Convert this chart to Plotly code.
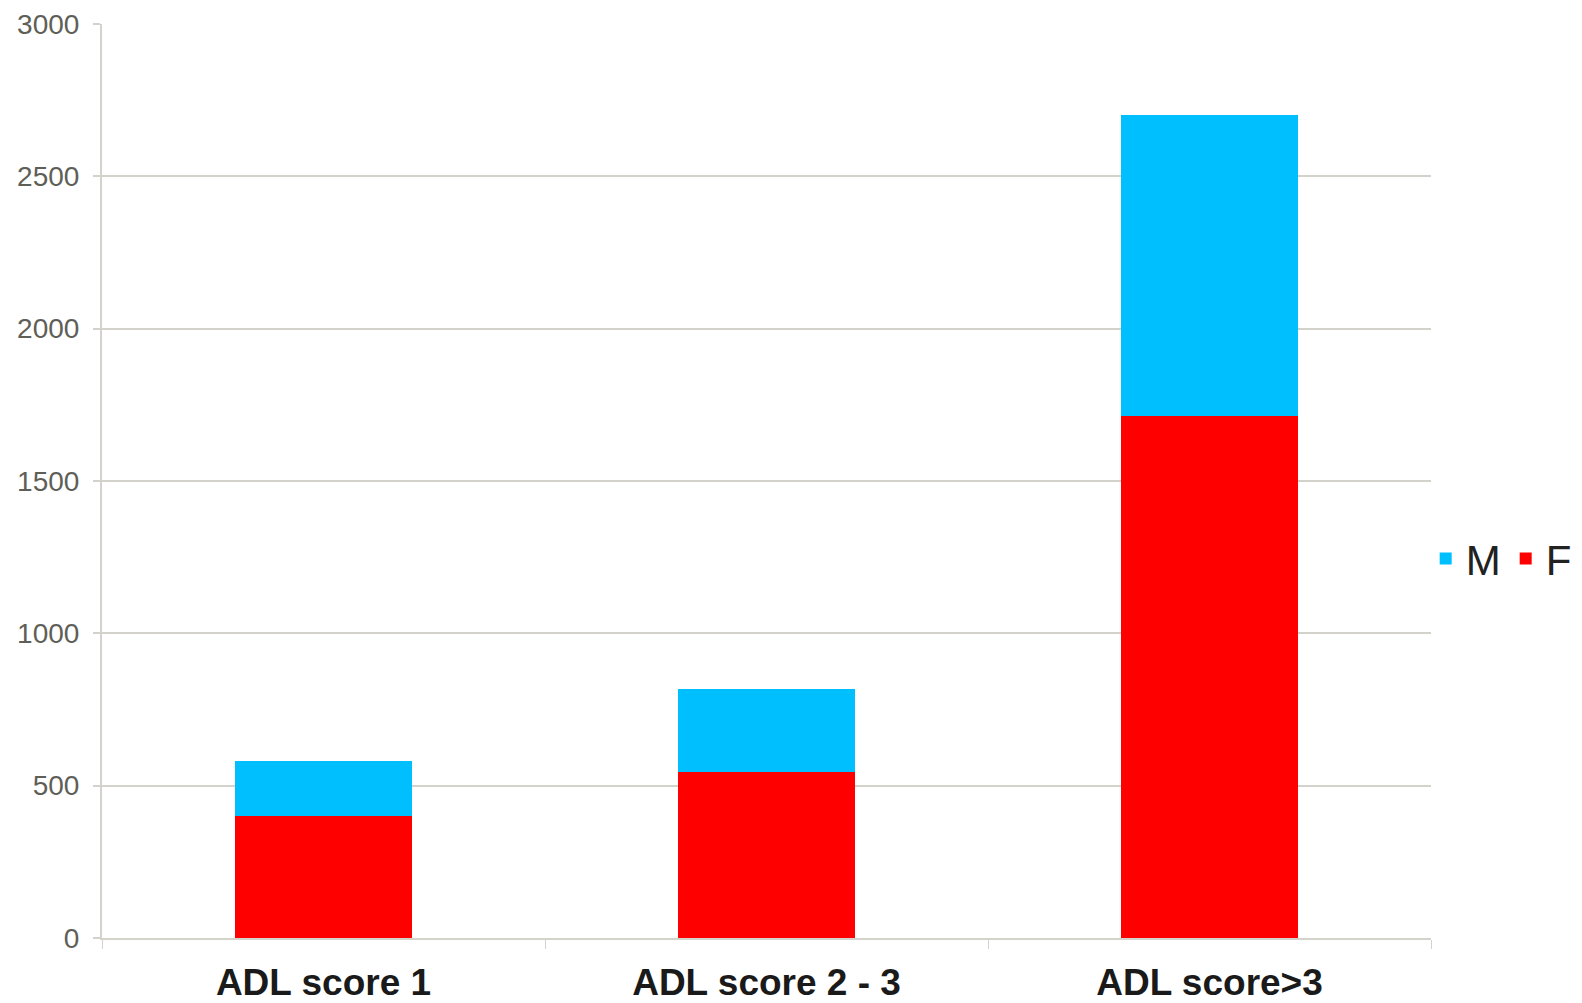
import plotly.graph_objects as go

# ADL score groups and counts by sex
categories = ["ADL score 1", "ADL score 2 - 3", "ADL score>3"]
female = [400, 544, 1712]
male = [180, 274, 990]
y_ticks = [0, 500, 1000, 1500, 2000, 2500, 3000]

grid_color = "#d3d3cb"

fig = go.Figure()
fig.add_trace(go.Bar(name="F", x=categories, y=female, marker=dict(color="#ff0000", line=dict(width=0))))
fig.add_trace(go.Bar(name="M", x=categories, y=male, marker=dict(color="#00bfff", line=dict(width=0))))

fig.update_layout(
    barmode="stack",
    bargap=0.6,
    width=1582,
    height=1003,
    margin=dict(l=102, r=151, t=24, b=65, autoexpand=False),
    plot_bgcolor="white",
    paper_bgcolor="white",
    font=dict(family="Liberation Sans, Arial, sans-serif"),
    legend=dict(
        orientation="h",
        traceorder="reversed",
        x=0.996,
        xanchor="left",
        y=0.415,
        yanchor="middle",
        font=dict(size=42, color="#222222"),
        itemwidth=30,
        tracegroupgap=0,
        bgcolor="rgba(0,0,0,0)",
    ),
    xaxis=dict(
        automargin=False,
        showline=True,
        linecolor=grid_color,
        linewidth=2,
        ticks="outside",
        tickson="boundaries",
        ticklen=9,
        tickcolor=grid_color,
        tickwidth=1,
        tickfont=dict(size=37, color="#1a1a1a", family="Liberation Sans, Arial, sans-serif"),
        ticklabelstandoff=11,
        showgrid=False,
    ),
    yaxis=dict(
        automargin=False,
        range=[0, 3000],
        tickvals=y_ticks,
        showline=True,
        linecolor=grid_color,
        linewidth=2,
        ticks="outside",
        ticklen=7,
        tickcolor=grid_color,
        tickwidth=2,
        showgrid=True,
        gridcolor=grid_color,
        gridwidth=2,
        tickfont=dict(size=28, color="#5f5f58"),
        ticklabelstandoff=8,
        zeroline=False,
    ),
)

# render the category labels in bold
fig.update_xaxes(tickvals=categories, ticktext=[f"<b>{c}</b>" for c in categories])

fig.write_html("out.html")
